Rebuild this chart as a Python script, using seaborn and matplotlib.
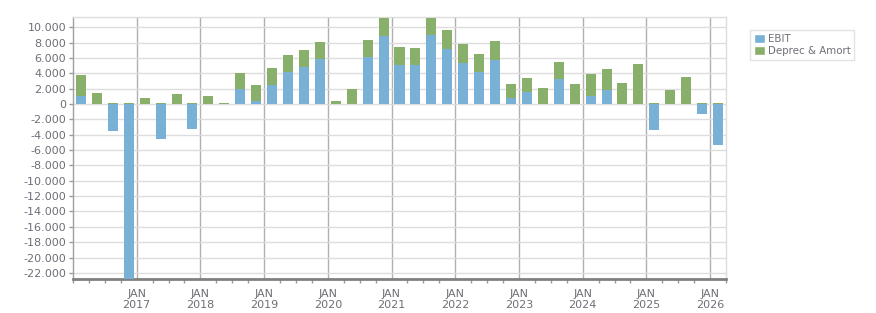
import numpy as np
import pandas as pd
import seaborn as sns
import matplotlib
matplotlib.use("Agg")
import matplotlib.pyplot as plt
from matplotlib.patches import Patch
from matplotlib.ticker import FuncFormatter, MultipleLocator

# quarterly data, Q1 2016 .. Q1 2026
quarters = pd.period_range("2016Q1", "2026Q1", freq="Q")
ebit = [1050, 50, -3480, -24500, 60, -4520, 50, -3220, 50, 0,
        1960, 390, 2480, 4170, 4830, 5870, -50, -50, 6130, 8910,
        5090, 5090, 9000, 7170, 5350, 4170, 5740, 780, 1570, -50,
        3260, -50, 1040, 1830, -50, -50, -3350, -50, -50, -1260, -5300]
deprec = [2730, 1380, 100, 100, 720, 100, 1250, 100, 990, 100,
          2080, 2090, 2220, 2220, 2210, 2220, 390, 1960, 2220, 2290,
          2340, 2210, 2200, 2480, 2480, 2350, 2480, 1830, 1820, 2090,
          2220, 2610, 2870, 2740, 2740, 5220, 100, 1830, 3520, 100, 100]
year_ticks = list(range(2017, 2027))

blue = "#78b1d5"
green = "#89b06a"
txt = "#6e6e78"

xpos = [p.year + (p.quarter - 0.5) / 4 for p in quarters]
df = pd.DataFrame({"x": xpos, "ebit": ebit, "deprec": deprec})
df["top"] = df["ebit"].clip(lower=0) + df["deprec"]

sns.set_style("white")
plt.rcParams["font.family"] = ["DejaVu Sans"]

fig = plt.figure(figsize=(8.76, 3.13), dpi=100)
ax = fig.add_axes([73 / 876, 34 / 313, (726 - 73) / 876, (279 - 17) / 313])

sns.barplot(data=df, x="x", y="top", native_scale=True, color=green,
            saturation=1, width=0.63, linewidth=0, errorbar=None, ax=ax, zorder=3)
sns.barplot(data=df, x="x", y="ebit", native_scale=True, color=blue,
            saturation=1, width=0.63, linewidth=0, errorbar=None, ax=ax, zorder=4)

ax.set_xlim(2016.0, 2026.25)
ax.set_ylim(-22800, 11350)
ax.set_xlabel("")
ax.set_ylabel("")

ax.set_xticks(year_ticks)
ax.set_xticklabels([f"JAN\n{y}" for y in year_ticks])
ax.xaxis.set_minor_locator(MultipleLocator(0.25))
ax.set_yticks(np.arange(-22000, 10001, 2000))
ax.yaxis.set_major_formatter(FuncFormatter(lambda v, p: f"{v:,.0f}".replace(",", ".")))

ax.grid(axis="y", color="#dddddd", linewidth=1, zorder=0)
ax.grid(axis="x", which="major", color="#b0b0b0", linewidth=1, zorder=0)
ax.set_axisbelow(True)

ax.tick_params(axis="both", which="major", labelsize=8, labelcolor=txt, color="#999999")
ax.tick_params(axis="x", which="major", length=5, width=1, pad=2)
ax.tick_params(axis="x", which="minor", length=3, width=1, color="#999999", bottom=True)
ax.tick_params(axis="y", which="major", length=3, width=1, pad=2, left=True)

for side in ["top", "right"]:
    ax.spines[side].set_color("#dddddd")
    ax.spines[side].set_linewidth(1)
ax.spines["left"].set_color("#a0a0a0")
ax.spines["left"].set_linewidth(1)
ax.spines["bottom"].set_color("#808080")
ax.spines["bottom"].set_linewidth(2)

handles = [Patch(facecolor=blue, label="EBIT"),
           Patch(facecolor=green, label="Deprec & Amort")]
leg = fig.legend(handles=handles, loc="upper left", bbox_to_anchor=(750 / 876, 1 - 30 / 313),
                 fontsize=7.4, frameon=True, fancybox=False, edgecolor="#dddddd",
                 handlelength=1.1, handleheight=1.1, handletextpad=0.3,
                 borderpad=0.35, labelspacing=0.15, borderaxespad=0)
for t in leg.get_texts():
    t.set_color(txt)

fig.savefig("out.png", dpi=100)
